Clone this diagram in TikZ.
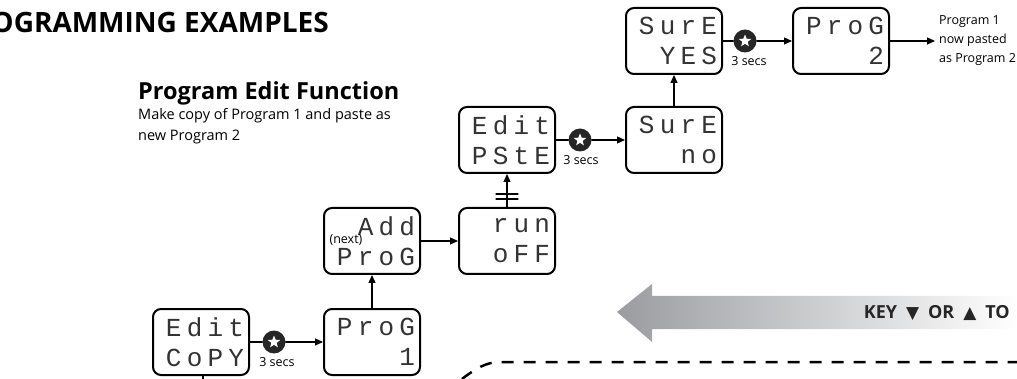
\documentclass[tikz,border=0pt]{standalone}
\usepackage{fontspec}
\setmainfont{Open Sans}
\newfontfamily\lcdfont[LetterSpace=20]{Liberation Mono}
\newfontfamily\symfont{DejaVu Sans}
\usetikzlibrary{arrows.meta,shapes.geometric,positioning,calc}
\definecolor{arrowgray}{RGB}{155,156,160}
\begin{document}
\begin{tikzpicture}[x=1pt,y=-1pt,>={Triangle[length=8pt,width=7pt]}, line join=round, line cap=round,
	lcdbox/.style={draw, line width=2pt, rounded corners=8pt, minimum width=96pt, minimum height=66pt,
		text width=86pt, inner sep=0pt, align=right, text=black!80,
		font=\lcdfont\fontsize{26}{30}\selectfont},
	starbtn/.style={circle, fill=black!85, minimum size=23pt, inner sep=0pt,
		path picture={\node[star, star points=5, star point ratio=2.3, fill=white, inner sep=0pt,
			minimum size=13pt] at (path picture bounding box.center) {};}},
	secs/.style={inner sep=0pt, font=\fontsize{12.5}{14}\selectfont},
	conn/.style={line width=1.2pt}]
	\useasboundingbox (0,0) rectangle (1017,379);
	% titre et texte
	\node[anchor=base east, inner sep=0pt, font=\bfseries\fontsize{28}{32}\selectfont] (title) at (329,33) {OGRAMMING EXAMPLES};
	\node[anchor=base west, inner sep=0pt, font=\bfseries\fontsize{23.5}{26}\selectfont] (head) at (138,100) {Program Edit Function};
	\node[anchor=north west, inner sep=0pt, align=left, font=\fontsize{14.5}{21}\selectfont] (sub) at (138,108) {Make copy of Program 1 and paste as\\new Program 2};
	% fleche grise
	\shade[left color=arrowgray, right color=white] (617,312) -- (652,284) -- (652,296) -- (1017,296) -- (1017,329) -- (652,329) -- (652,342) -- cycle;
	\node[anchor=east, inner sep=0pt, font=\bfseries\fontsize{18}{20}\selectfont, text=black!85] (keys) at (1010,313) {KEY\enspace{\symfont\fontsize{17}{18}\selectfont▼}\enspace OR\enspace{\symfont\fontsize{17}{18}\selectfont▲}\enspace TO};
	\draw[line width=2.5pt, dash pattern=on 12pt off 10pt, line cap=butt] (462,379) .. controls (475,369) and (486,362) .. (500,362) -- (1017,362);
	% afficheurs
	\node[lcdbox] (copy) at (201,342) {Edit\\CoPY};
	\node[lcdbox] (prog1) at (372,342) {ProG\\1};
	\node[lcdbox] (addprog) at (372,241) {Add\\ProG};
	\node[lcdbox] (runoff) at (507,241) {run\\oFF};
	\node[lcdbox] (paste) at (507,140) {Edit\\PStE};
	\node[lcdbox] (sureno) at (674,140) {SurE\\no};
	\node[lcdbox] (sureyes) at (674,41) {SurE\\YES};
	\node[lcdbox] (prog2) at (841,41) {ProG\\2};
	\node[inner sep=0pt, font=\fontsize{12.5}{13}\selectfont] (next) at (346,240) {(next)};
	% touches
	\node[starbtn] (key1) at (274,342) {};
	\node[starbtn] (key2) at (580,140) {};
	\node[starbtn] (key3) at (745,41) {};
	\node[secs, below=4pt of key1, xshift=3pt] (secs1) {3 secs};
	\node[secs, below=4pt of key2, xshift=1pt] (secs2) {3 secs};
	\node[secs, below=4pt of key3, xshift=4pt] (secs3) {3 secs};
	% liaisons
	\draw[conn] (copy) -- (key1); \draw[conn,->] (key1) -- (prog1);
	\draw[conn,->] (prog1) -- (addprog);
	\draw[conn,->] (addprog) -- (runoff);
	\draw[conn,->] (runoff) -- (paste);
	\draw[conn] ($(runoff.north)+(-11,-8)$) -- ++(22,0) ($(runoff.north)+(-11,-13)$) -- ++(22,0);
	\draw[conn] (paste) -- (key2); \draw[conn,->] (key2) -- (sureno);
	\draw[conn,->] (sureno) -- (sureyes);
	\draw[conn] (sureyes) -- (key3); \draw[conn,->] (key3) -- (prog2);
	\coordinate (done) at (935,41);
	\draw[conn,->] (prog2) -- (done);
	\node[anchor=west, inner sep=0pt, align=left, font=\fontsize{12.5}{19}\selectfont] (donetext) at ($(done)+(4,0)$) {Program 1\\now pasted\\as Program 2};
	\coordinate (below) at (203,379);
	\draw[conn] (copy.south -| below) -- (below);
\end{tikzpicture}
\end{document}
